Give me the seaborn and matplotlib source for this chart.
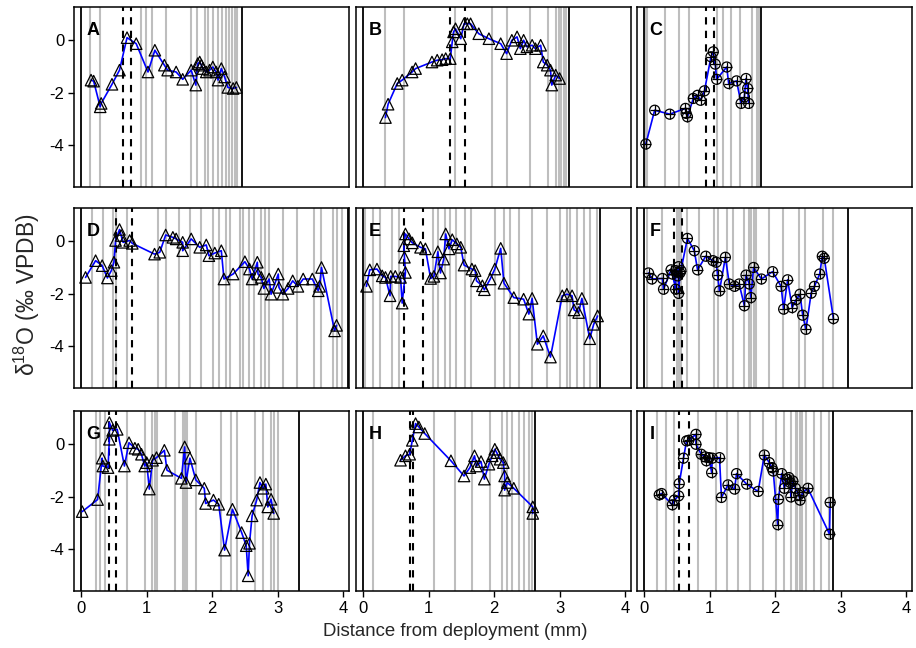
import matplotlib
matplotlib.use("Agg")
import matplotlib.pyplot as plt
import seaborn as sns

sns.set_style("ticks")
plt.rcParams['font.family'] = ['Liberation Sans', 'DejaVu Sans']
plt.rcParams['axes.unicode_minus'] = False
plt.rcParams['mathtext.fontset'] = 'custom'
plt.rcParams['mathtext.rm'] = 'Liberation Sans'

# ---------------- data ----------------
A_x = [0.15, 0.19, 0.29, 0.305, 0.47, 0.585, 0.70, 0.84, 1.02, 1.125,
       1.27, 1.32, 1.45, 1.55, 1.68, 1.75, 1.78, 1.81, 1.835, 1.86,
       1.91, 1.96, 2.01, 2.06, 2.09, 2.14, 2.19, 2.24, 2.32, 2.37]
A_y = [-1.52, -1.56, -2.54, -2.41, -1.68, -1.14, 0.10, -0.13, -1.21, -0.38,
       -0.95, -1.14, -1.21, -1.49, -1.14, -1.71, -0.89, -0.83, -0.95, -1.08,
       -1.21, -1.14, -1.02, -1.21, -1.52, -1.08, -1.40, -1.80, -1.84, -1.80]
A_gray = [0.137, 0.29, 0.907, 0.983, 1.075, 1.29, 1.68, 1.77, 1.885, 1.93,
          2.01, 2.09, 2.155, 2.217, 2.26, 2.31, 2.35, 2.38]
A_dash = [0.64, 0.76]
A_end = 2.45

B_x = [0.34, 0.38, 0.52, 0.595, 0.747, 0.80, 1.05, 1.13, 1.205, 1.26,
       1.33, 1.36, 1.38, 1.41, 1.49, 1.54, 1.59, 1.64, 1.765, 1.92,
       2.10, 2.19, 2.27, 2.35, 2.40, 2.45, 2.50, 2.58, 2.63, 2.71,
       2.75, 2.81, 2.86, 2.88, 2.94, 3.00]
B_y = [-2.95, -2.44, -1.65, -1.52, -1.21, -1.08, -0.83, -0.76, -0.74, -0.70,
       -0.70, -0.06, 0.32, 0.44, 0.06, 0.63, 0.63, 0.63, 0.25, 0.06,
       -0.13, -0.51, 0.0, 0.13, -0.32, 0.0, -0.25, -0.19, -0.32, -0.19,
       -0.83, -0.95, -1.14, -1.71, -1.33, -1.46]
B_gray = [0.34, 0.63, 1.40, 1.97, 2.20, 2.54, 2.82, 2.95, 2.99, 3.02, 3.06, 3.10]
B_dash = [1.32, 1.55]
B_end = 3.14

C_x = [0.025, 0.16, 0.39, 0.63, 0.64, 0.66, 0.75, 0.815, 0.86, 0.92,
       1.02, 1.055, 1.085, 1.106, 1.26, 1.29, 1.41, 1.48, 1.53, 1.555,
       1.58, 1.595]
C_y = [-3.96, -2.67, -2.82, -2.60, -2.79, -2.92, -2.22, -2.10, -2.29, -1.93,
       -0.63, -0.44, -0.91, -1.49, -1.02, -1.65, -1.55, -2.41, -2.16, -1.46,
       -1.84, -2.41]
C_gray = [0.01, 0.04, 0.31, 0.535, 0.68, 1.106, 1.21, 1.325, 1.47, 1.65, 1.72, 1.75]
C_dash = [0.94, 1.06]
C_end = 1.78

D_x = [0.066, 0.22, 0.32, 0.40, 0.46, 0.50, 0.525, 0.585, 0.61, 0.64,
       0.74, 0.78, 1.12, 1.20, 1.29, 1.40, 1.45, 1.55, 1.55, 1.68,
       1.81, 1.91, 1.95, 2.04, 2.14, 2.18, 2.32, 2.50, 2.57, 2.61,
       2.69, 2.70, 2.75, 2.79, 2.87, 2.90, 3.01, 3.02, 3.08, 3.16,
       3.23, 3.31, 3.39, 3.53, 3.62, 3.64, 3.67, 3.87, 3.90]
D_y = [-1.38, -0.74, -0.93, -1.40, -1.12, -0.80, 0.03, 0.45, 0.22, -0.04,
       0.03, -0.08, -0.49, -0.42, 0.24, 0.15, 0.09, -0.04, -0.36, 0.09,
       -0.23, -0.14, -0.55, -0.45, -0.36, -1.44, -1.25, -0.78, -1.06, -1.44,
       -0.80, -1.25, -1.38, -1.80, -1.44, -2.02, -1.25, -1.76, -2.02, -1.80,
       -1.51, -1.72, -1.44, -1.44, -1.89, -1.72, -1.00, -3.42, -3.21]
D_gray = [0.168, 0.33, 0.48, 0.53, 0.70, 1.17, 1.30, 1.49, 1.66, 1.83,
          2.02, 2.10, 2.21, 2.27, 2.42, 2.47, 2.57, 2.64, 2.75, 2.80,
          2.87, 3.08, 3.29, 3.56, 3.67, 3.85, 3.90, 3.98]
D_dash = [0.525, 0.78]
D_end = 4.07

E_x = [0.05, 0.10, 0.21, 0.29, 0.34, 0.41, 0.42, 0.49, 0.57, 0.595,
       0.645, 0.63, 0.62, 0.645, 0.70, 0.75, 0.875, 0.95, 1.03, 1.08,
       1.14, 1.18, 1.23, 1.26, 1.31, 1.36, 1.43, 1.49, 1.54, 1.66,
       1.71, 1.73, 1.82, 1.85, 1.94, 2.01, 2.10, 2.15, 2.30, 2.45,
       2.53, 2.58, 2.66, 2.75, 2.86, 3.04, 3.11, 3.19, 3.22, 3.29,
       3.34, 3.46, 3.52, 3.58]
E_y = [-1.72, -1.09, -1.06, -1.32, -1.38, -2.08, -1.34, -1.34, -1.38, -2.36,
       -1.19, -0.61, -0.17, 0.28, 0.09, -0.06, -0.23, -0.29, -1.42, -1.34,
       -0.40, -1.21, -0.68, 0.28, -0.29, 0.06, -0.10, -0.23, -0.91, -1.06,
       -1.12, -1.51, -1.70, -1.85, -1.44, -1.06, -0.27, -1.60, -2.15, -2.21,
       -2.78, -2.18, -3.93, -3.61, -4.42, -2.08, -2.02, -2.08, -2.62, -2.72,
       -2.18, -3.72, -3.17, -2.85]
E_gray = [0.03, 0.152, 0.264, 0.44, 0.54, 1.07, 1.14, 1.256, 1.33, 1.41,
          1.56, 1.64, 2.02, 2.15, 2.24, 2.38, 2.58, 2.81, 3.01, 3.11,
          3.16, 3.27, 3.37, 3.47, 3.57]
E_dash = [0.62, 0.915]
E_end = 3.61

F_x = [0.066, 0.117, 0.28, 0.295, 0.41, 0.43, 0.48, 0.48, 0.51, 0.525,
       0.525, 0.545, 0.56, 0.66, 0.765, 0.815, 0.94, 1.05, 1.10, 1.12,
       1.15, 1.24, 1.30, 1.38, 1.45, 1.53, 1.555, 1.605, 1.63, 1.67,
       1.79, 1.96, 2.09, 2.13, 2.19, 2.26, 2.32, 2.38, 2.42, 2.47,
       2.55, 2.60, 2.68, 2.72, 2.75, 2.89]
F_y = [-1.21, -1.44, -1.42, -1.83, -1.09, -1.25, -1.83, -1.12, -1.32, -0.97,
       -1.99, -1.21, -1.12, 0.11, -0.36, -1.09, -0.57, -0.74, -0.80, -1.29,
       -1.89, -0.61, -1.63, -1.72, -1.63, -2.46, -1.29, -1.63, -2.15, -1.00,
       -1.44, -1.16, -1.72, -2.59, -1.47, -2.53, -2.23, -2.02, -2.82, -3.36,
       -1.98, -1.72, -1.25, -0.57, -0.65, -2.95]
F_gray = [0.05, 0.27, 0.50, 0.53, 0.56, 0.66, 0.84, 1.07, 1.12, 1.26,
          1.35, 1.53, 1.60, 1.63, 1.67, 1.70, 1.91, 2.12, 2.37, 2.45,
          2.73, 2.89]
F_dash = [0.45, 0.576]
F_end = 3.11

G_x = [0.015, 0.25, 0.32, 0.33, 0.41, 0.43, 0.43, 0.48, 0.55, 0.66,
       0.73, 0.82, 0.87, 0.92, 0.97, 1.00, 1.04, 1.09, 1.15, 1.27,
       1.31, 1.53, 1.58, 1.60, 1.66, 1.75, 1.88, 1.90, 2.02, 2.10,
       2.19, 2.31, 2.45, 2.52, 2.55, 2.57, 2.61, 2.68, 2.73, 2.78,
       2.82, 2.85, 2.90, 2.94]
G_y = [-2.57, -2.11, -0.53, -0.83, -0.89, 0.19, 0.83, 0.53, 0.57, -0.83,
       0.06, -0.15, -0.19, -0.38, -0.83, -0.70, -1.71, -0.61, -0.51, -0.23,
       -0.99, -1.30, -0.10, -1.46, -0.53, -1.36, -1.68, -2.26, -2.13, -2.29,
       -4.04, -2.48, -3.37, -3.87, -5.02, -3.78, -2.73, -2.13, -1.46, -1.68,
       -1.52, -2.39, -2.10, -2.64]
G_gray = [0.22, 0.29, 0.36, 0.70, 0.97, 1.085, 1.12, 1.16, 1.44, 1.55,
          1.58, 1.62, 1.76, 2.14, 2.29, 2.38, 2.65, 2.78, 2.90, 2.94, 3.01]
G_dash = [0.42, 0.535]
G_end = 3.33

H_x = [0.57, 0.646, 0.71, 0.75, 0.80, 0.85, 0.94, 1.34, 1.54, 1.63,
       1.70, 1.73, 1.80, 1.85, 1.92, 1.97, 2.01, 2.04, 2.09, 2.14,
       2.16, 2.16, 2.20, 2.30, 2.59, 2.59]
H_y = [-0.61, -0.44, -0.38, 0.15, 0.79, 0.66, 0.41, -0.63, -1.21, -0.89,
       -0.44, -0.83, -0.66, -1.33, -0.76, -0.44, -0.19, -0.32, -0.57, -0.70,
       -1.21, -1.75, -1.46, -1.68, -2.39, -2.64]
H_gray = [0.152, 1.08, 1.40, 1.66, 1.93, 2.12, 2.19, 2.27, 2.38, 2.45, 2.53, 2.58]
H_dash = [0.71, 0.76]
H_end = 2.63

I_x = [0.23, 0.265, 0.43, 0.46, 0.525, 0.535, 0.60, 0.647, 0.68, 0.79,
       0.79, 0.87, 0.93, 0.95, 0.99, 1.03, 1.04, 1.15, 1.18, 1.28,
       1.38, 1.41, 1.565, 1.74, 1.835, 1.91, 1.95, 1.97, 2.04, 2.05,
       2.10, 2.14, 2.18, 2.21, 2.23, 2.24, 2.27, 2.31, 2.36, 2.38,
       2.42, 2.50, 2.83, 2.84]
I_y = [-1.93, -1.88, -2.31, -2.13, -1.97, -1.50, -0.53, 0.13, 0.15, 0.38,
       0.00, -0.38, -0.48, -0.63, -0.51, -1.08, -0.53, -0.51, -2.03, -1.55,
       -1.71, -1.12, -1.52, -1.80, -0.41, -0.70, -0.89, -1.02, -3.07, -2.10,
       -1.12, -1.68, -1.33, -1.27, -1.46, -2.01, -1.40, -1.68, -1.93, -2.13,
       -1.84, -1.68, -3.43, -2.22]
I_gray = [0.20, 0.33, 0.46, 0.82, 1.09, 1.26, 1.43, 1.61, 1.82, 2.01,
          2.14, 2.24, 2.32, 2.34, 2.38, 2.41, 2.47, 2.60, 2.70, 2.82]
I_dash = [0.535, 0.68]
I_end = 2.89

panel_labels = ["A", "B", "C", "D", "E", "F", "G", "H", "I"]
panel_marker = ["tri", "tri", "cplus", "tri", "tri", "cplus", "tri", "tri", "cplus"]
x_ticks = [0, 1, 2, 3, 4]
y_ticks = [0, -2, -4]

panels = [
    (A_x, A_y, A_gray, A_dash, A_end),
    (B_x, B_y, B_gray, B_dash, B_end),
    (C_x, C_y, C_gray, C_dash, C_end),
    (D_x, D_y, D_gray, D_dash, D_end),
    (E_x, E_y, E_gray, E_dash, E_end),
    (F_x, F_y, F_gray, F_dash, F_end),
    (G_x, G_y, G_gray, G_dash, G_end),
    (H_x, H_y, H_gray, H_dash, H_end),
    (I_x, I_y, I_gray, I_dash, I_end),
]

# ---------------- layout ----------------
W, H = 916, 648
fig = plt.figure(figsize=(W / 100, H / 100), dpi=100)
col_left = [74, 356, 637]
row_top = [7, 208, 411]
pw, ph = 275, 180

for i, (xs, ys, gray, dash, end) in enumerate(panels):
    r, c = divmod(i, 3)
    ax = fig.add_axes([col_left[c] / W, 1 - (row_top[r] + ph) / H, pw / W, ph / H])
    for g in gray:
        ax.axvline(g, color='#BEBEBE', lw=1.5, zorder=1)
    for d in dash:
        ax.axvline(d, color='black', lw=1.5, ls=(0, (3.5, 3)), zorder=1.5)
    ax.axvline(0, color='black', lw=1.3, zorder=1.6)
    ax.axvline(end, color='black', lw=1.3, zorder=1.6)
    sns.lineplot(x=xs, y=ys, sort=False, estimator=None, errorbar=None,
                 color='#0000FF', lw=1.2, ax=ax, zorder=2)
    if panel_marker[i] == "tri":
        sns.scatterplot(x=xs, y=ys, marker='^', s=68, facecolor='none',
                        edgecolor='black', linewidth=0.9, ax=ax, zorder=3)
    else:
        sns.scatterplot(x=xs, y=ys, marker='o', s=52, facecolor='none',
                        edgecolor='black', linewidth=0.9, ax=ax, zorder=3)
        sns.scatterplot(x=xs, y=ys, marker='+', s=52, color='black',
                        linewidth=0.9, ax=ax, zorder=3)
    ax.set_xlim(-0.11, 4.09)
    ax.set_ylim(-5.6, 1.27)
    for sp in ax.spines.values():
        sp.set_color('black')
        sp.set_linewidth(1.1)
    ax.tick_params(direction='out', length=4.5, width=1.0, colors='black',
                   labelsize=12, pad=2.5)
    if c == 0:
        ax.set_yticks(y_ticks)
        ax.set_yticklabels([str(v) for v in y_ticks])
    else:
        ax.set_yticks([])
    if r == 2:
        ax.set_xticks(x_ticks)
        ax.set_xticklabels([str(v) for v in x_ticks])
    else:
        ax.set_xticks([])
    ax.set_xlabel('')
    ax.set_ylabel('')
    ax.text(0.045, 0.915, panel_labels[i], transform=ax.transAxes, ha='left',
            va='top', fontsize=13, fontweight='bold', color='black')

fig.text(0.497, 0.012, 'Distance from deployment (mm)', ha='center', va='bottom',
         fontsize=13.4)
fig.text(0.029, 0.545, r'$\mathregular{\delta^{18}O}$ (‰ VPDB)', rotation=90,
         ha='center', va='center', fontsize=16.5)

fig.savefig('out.png', dpi=100)
